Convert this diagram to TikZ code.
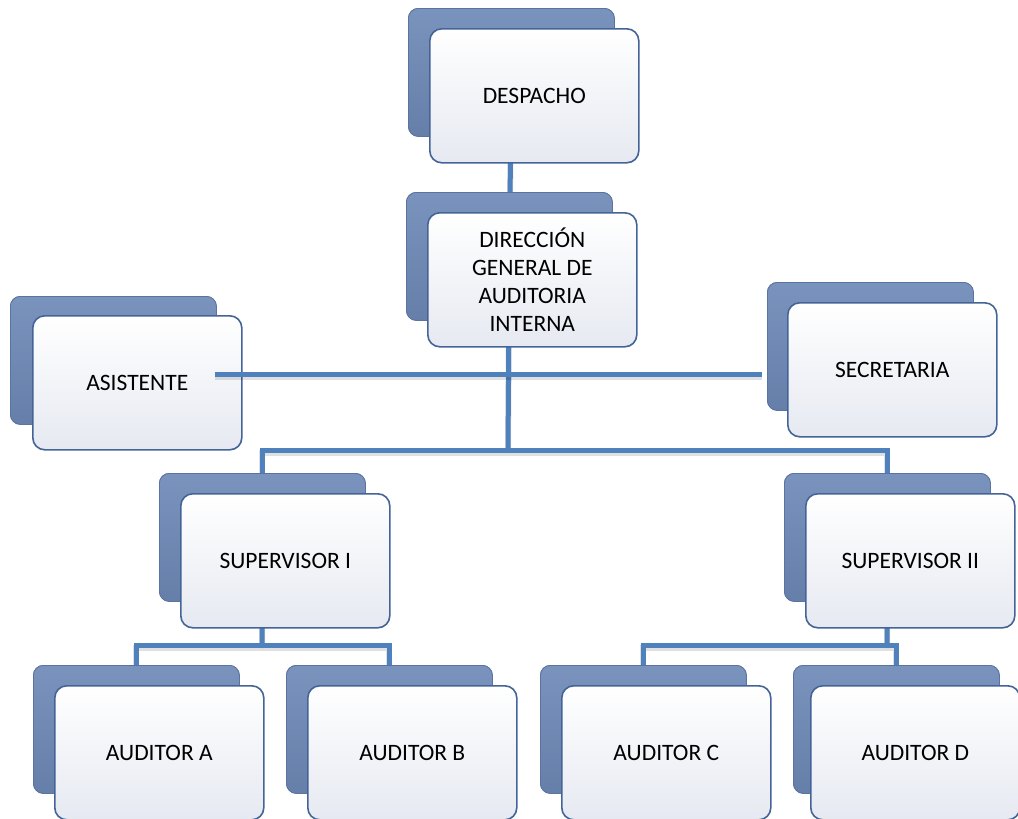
\documentclass[tikz,border=0pt]{standalone}
\usepackage{fontspec}
\setmainfont{Carlito}
\usetikzlibrary{positioning}
\definecolor{connblue}{RGB}{79,129,189}
\definecolor{backfill}{RGB}{110,138,184}
\definecolor{backedge}{RGB}{90,115,160}
\definecolor{frontedge}{RGB}{68,100,152}
\definecolor{frontbot}{RGB}{230,233,241}
\begin{document}
\begin{tikzpicture}[x=1pt,y=-1pt,
  backbox/.style={draw=backedge, line width=0.8pt, top color=backfill!92!white, bottom color=backfill!92!black,
    rounded corners=10pt, minimum width=206pt, minimum height=128pt, anchor=north west, inner sep=0pt},
  frontbox/.style={draw=frontedge, line width=1.6pt, top color=white, bottom color=frontbot,
    rounded corners=12pt, minimum width=209pt, minimum height=134pt, anchor=north west,
    inner sep=0pt, align=center, font=\fontsize{23.5}{28}\selectfont, text=black},
  conn/.style={draw=connblue, line width=5pt},
  connshadow/.style={draw=black, opacity=0.12, line width=6pt}
]
\useasboundingbox (0,0) rectangle (1018,819);

% coordinates for free ends and junctions
\coordinate (hub) at (508,450);
\coordinate (s1hub) at (262,645);
\coordinate (s2hub) at (887,645);
\coordinate (aL) at (215,374);
\coordinate (sR) at (762,374);

% back boxes (named first so connectors can reference them)
\path
  node[backbox] (despB) at (408,8) {}
  node[backbox] (dirB) at (406,192) {}
  node[backbox] (asisB) at (10,296) {}
  node[backbox] (secB) at (767,282) {}
  node[backbox] (sup1B) at (159,473) {}
  node[backbox] (sup2B) at (784,473) {}
  node[backbox] (audAB) at (33,665) {}
  node[backbox] (audBB) at (286,665) {}
  node[backbox] (audCB) at (540,665) {}
  node[backbox] (audDB) at (793,665) {};

% connectors behind the boxes
\begin{scope}[transform canvas={yshift=-3pt}]
  \draw[connshadow] (despB.center) -- (dirB.center);
  \draw[connshadow] (dirB.center) -- (hub);
  \draw[connshadow] (sup1B.center) |- (hub) -| (sup2B.center);
  \draw[connshadow] (sup1B.center) -- (s1hub);
  \draw[connshadow] (audAB.center) |- (s1hub) -| (audBB.center);
  \draw[connshadow] (sup2B.center) -- (s2hub);
  \draw[connshadow] (audCB.center) |- (s2hub) -| (audDB.center);
\end{scope}
\draw[conn] (despB.center) -- (dirB.center);
\draw[conn] (dirB.center) -- (hub);
\draw[conn] (sup1B.center) |- (hub) -| (sup2B.center);
\draw[conn] (sup1B.center) -- (s1hub);
\draw[conn] (audAB.center) |- (s1hub) -| (audBB.center);
\draw[conn] (sup2B.center) -- (s2hub);
\draw[conn] (audCB.center) |- (s2hub) -| (audDB.center);

% redraw back boxes on top of connectors
\foreach \n/\x/\y in {despB/408/8, dirB/406/192, asisB/10/296, secB/767/282, sup1B/159/473,
  sup2B/784/473, audAB/33/665, audBB/286/665, audCB/540/665, audDB/793/665}
  \node[backbox] at (\x,\y) {};

% front boxes
\node[frontbox] (despF) at (429,28) {DESPACHO};
\node[frontbox] (dirF) at (427,212) {DIRECCIÓN\\GENERAL DE\\AUDITORIA\\INTERNA};
\node[frontbox] (asisF) at (32,315) {ASISTENTE};
\node[frontbox] (secF) at (787,302) {SECRETARIA};
\node[frontbox] (sup1F) at (180,493) {SUPERVISOR I};
\node[frontbox] (sup2F) at (805,493) {SUPERVISOR II};
\node[frontbox] (audAF) at (54,685) {AUDITOR A};
\node[frontbox] (audBF) at (307,685) {AUDITOR B};
\node[frontbox] (audCF) at (561,685) {AUDITOR C};
\node[frontbox] (audDF) at (810,685) {AUDITOR D};

% staff line, drawn over the ASISTENTE box
\draw[connshadow, transform canvas={yshift=-3pt}] (aL) -- (sR);
\draw[conn] (aL) -- (sR);
\end{tikzpicture}
\end{document}
